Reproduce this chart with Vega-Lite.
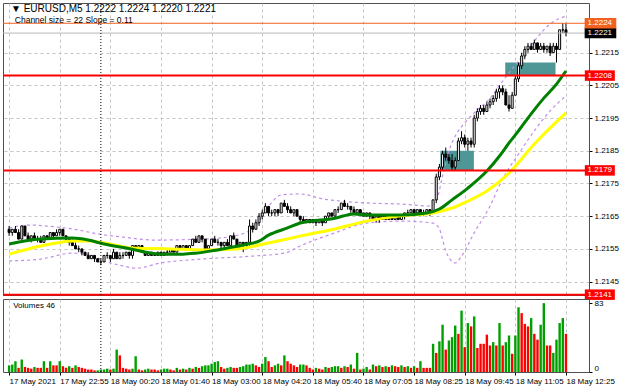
{
"$schema": "https://vega.github.io/schema/vega-lite/v6.json",
"background": "white",
"padding": {"left": 1, "top": 2, "right": 0, "bottom": 0},
"spacing": 4,
"bounds": "flush",
"config": {"font": "Liberation Sans", "view": {"stroke": "#505050", "strokeWidth": 1}},
"datasets": {
"bars": [
{"i":0,"o":1.2161,"h":1.2162,"l":1.2159,"c":1.2160,"v":8,"vc":"g"},
{"i":1,"o":1.2160,"h":1.2161,"l":1.2159,"c":1.2161,"v":9,"vc":"g"},
{"i":2,"o":1.2161,"h":1.2162,"l":1.2160,"c":1.2160,"v":13,"vc":"g"},
{"i":3,"o":1.2160,"h":1.2161,"l":1.2158,"c":1.2158,"v":5,"vc":"r"},
{"i":4,"o":1.2158,"h":1.2162,"l":1.2158,"c":1.2162,"v":15,"vc":"g"},
{"i":5,"o":1.2162,"h":1.2162,"l":1.2159,"c":1.2159,"v":6,"vc":"r"},
{"i":6,"o":1.2159,"h":1.2160,"l":1.2158,"c":1.2158,"v":5,"vc":"r"},
{"i":7,"o":1.2158,"h":1.2159,"l":1.2157,"c":1.2159,"v":4,"vc":"r"},
{"i":8,"o":1.2159,"h":1.2160,"l":1.2158,"c":1.2158,"v":6,"vc":"g"},
{"i":9,"o":1.2158,"h":1.2159,"l":1.2157,"c":1.2158,"v":5,"vc":"r"},
{"i":10,"o":1.2158,"h":1.2159,"l":1.2157,"c":1.2157,"v":5,"vc":"r"},
{"i":11,"o":1.2157,"h":1.2159,"l":1.2157,"c":1.2159,"v":13,"vc":"g"},
{"i":12,"o":1.2159,"h":1.2159,"l":1.2158,"c":1.2158,"v":5,"vc":"r"},
{"i":13,"o":1.2158,"h":1.2160,"l":1.2158,"c":1.2160,"v":13,"vc":"g"},
{"i":14,"o":1.2160,"h":1.2160,"l":1.2158,"c":1.2159,"v":8,"vc":"r"},
{"i":15,"o":1.2159,"h":1.2161,"l":1.2159,"c":1.2160,"v":8,"vc":"r"},
{"i":16,"o":1.2160,"h":1.2161,"l":1.2159,"c":1.2161,"v":13,"vc":"g"},
{"i":17,"o":1.2161,"h":1.2161,"l":1.2159,"c":1.2159,"v":7,"vc":"r"},
{"i":18,"o":1.2159,"h":1.2159,"l":1.2157,"c":1.2158,"v":5,"vc":"r"},
{"i":19,"o":1.2158,"h":1.2158,"l":1.2156,"c":1.2157,"v":7,"vc":"g"},
{"i":20,"o":1.2157,"h":1.2158,"l":1.2156,"c":1.2156,"v":5,"vc":"r"},
{"i":21,"o":1.2156,"h":1.2157,"l":1.2155,"c":1.2155,"v":8,"vc":"g"},
{"i":22,"o":1.2155,"h":1.2156,"l":1.2154,"c":1.2155,"v":6,"vc":"r"},
{"i":23,"o":1.2155,"h":1.2155,"l":1.2153,"c":1.2154,"v":5,"vc":"r"},
{"i":24,"o":1.2154,"h":1.2154,"l":1.2153,"c":1.2153,"v":4,"vc":"r"},
{"i":25,"o":1.2153,"h":1.2154,"l":1.2152,"c":1.2152,"v":3,"vc":"r"},
{"i":26,"o":1.2152,"h":1.2153,"l":1.2152,"c":1.2153,"v":3,"vc":"r"},
{"i":27,"o":1.2153,"h":1.2153,"l":1.2151,"c":1.2152,"v":2,"vc":"r"},
{"i":28,"o":1.2152,"h":1.2152,"l":1.2151,"c":1.2151,"v":2,"vc":"g"},
{"i":29,"o":1.2151,"h":1.2152,"l":1.2150,"c":1.2151,"v":3,"vc":"g"},
{"i":30,"o":1.2151,"h":1.2153,"l":1.2151,"c":1.2153,"v":3,"vc":"g"},
{"i":31,"o":1.2153,"h":1.2154,"l":1.2152,"c":1.2153,"v":4,"vc":"g"},
{"i":32,"o":1.2153,"h":1.2153,"l":1.2151,"c":1.2152,"v":3,"vc":"r"},
{"i":33,"o":1.2152,"h":1.2155,"l":1.2152,"c":1.2154,"v":4,"vc":"g"},
{"i":34,"o":1.2154,"h":1.2154,"l":1.2152,"c":1.2152,"v":27,"vc":"g"},
{"i":35,"o":1.2152,"h":1.2154,"l":1.2152,"c":1.2153,"v":20,"vc":"r"},
{"i":36,"o":1.2153,"h":1.2154,"l":1.2152,"c":1.2153,"v":5,"vc":"r"},
{"i":37,"o":1.2153,"h":1.2154,"l":1.2153,"c":1.2154,"v":4,"vc":"r"},
{"i":38,"o":1.2154,"h":1.2154,"l":1.2152,"c":1.2153,"v":3,"vc":"r"},
{"i":39,"o":1.2153,"h":1.2156,"l":1.2152,"c":1.2156,"v":4,"vc":"g"},
{"i":40,"o":1.2156,"h":1.2156,"l":1.2155,"c":1.2155,"v":19,"vc":"g"},
{"i":41,"o":1.2155,"h":1.2156,"l":1.2155,"c":1.2156,"v":3,"vc":"r"},
{"i":42,"o":1.2156,"h":1.2156,"l":1.2154,"c":1.2154,"v":2,"vc":"r"},
{"i":43,"o":1.2154,"h":1.2154,"l":1.2153,"c":1.2153,"v":3,"vc":"g"},
{"i":44,"o":1.2153,"h":1.2154,"l":1.2153,"c":1.2154,"v":4,"vc":"g"},
{"i":45,"o":1.2154,"h":1.2154,"l":1.2153,"c":1.2153,"v":3,"vc":"r"},
{"i":46,"o":1.2153,"h":1.2154,"l":1.2153,"c":1.2153,"v":3,"vc":"r"},
{"i":47,"o":1.2153,"h":1.2154,"l":1.2153,"c":1.2154,"v":2,"vc":"r"},
{"i":48,"o":1.2154,"h":1.2154,"l":1.2153,"c":1.2153,"v":3,"vc":"g"},
{"i":49,"o":1.2153,"h":1.2154,"l":1.2153,"c":1.2154,"v":4,"vc":"g"},
{"i":50,"o":1.2154,"h":1.2155,"l":1.2153,"c":1.2154,"v":4,"vc":"g"},
{"i":51,"o":1.2154,"h":1.2155,"l":1.2154,"c":1.2155,"v":3,"vc":"r"},
{"i":52,"o":1.2155,"h":1.2155,"l":1.2154,"c":1.2154,"v":2,"vc":"r"},
{"i":53,"o":1.2154,"h":1.2156,"l":1.2154,"c":1.2156,"v":5,"vc":"g"},
{"i":54,"o":1.2156,"h":1.2156,"l":1.2155,"c":1.2155,"v":3,"vc":"r"},
{"i":55,"o":1.2155,"h":1.2156,"l":1.2155,"c":1.2156,"v":4,"vc":"g"},
{"i":56,"o":1.2156,"h":1.2156,"l":1.2155,"c":1.2155,"v":3,"vc":"r"},
{"i":57,"o":1.2155,"h":1.2156,"l":1.2155,"c":1.2156,"v":5,"vc":"g"},
{"i":58,"o":1.2156,"h":1.2158,"l":1.2156,"c":1.2158,"v":4,"vc":"r"},
{"i":59,"o":1.2158,"h":1.2159,"l":1.2157,"c":1.2157,"v":6,"vc":"g"},
{"i":60,"o":1.2157,"h":1.2159,"l":1.2157,"c":1.2159,"v":5,"vc":"r"},
{"i":61,"o":1.2159,"h":1.2159,"l":1.2157,"c":1.2158,"v":7,"vc":"g"},
{"i":62,"o":1.2158,"h":1.2158,"l":1.2155,"c":1.2155,"v":8,"vc":"g"},
{"i":63,"o":1.2155,"h":1.2156,"l":1.2154,"c":1.2156,"v":8,"vc":"g"},
{"i":64,"o":1.2156,"h":1.2158,"l":1.2156,"c":1.2158,"v":10,"vc":"g"},
{"i":65,"o":1.2158,"h":1.2159,"l":1.2157,"c":1.2157,"v":12,"vc":"g"},
{"i":66,"o":1.2157,"h":1.2158,"l":1.2156,"c":1.2157,"v":13,"vc":"g"},
{"i":67,"o":1.2157,"h":1.2157,"l":1.2155,"c":1.2156,"v":6,"vc":"r"},
{"i":68,"o":1.2156,"h":1.2157,"l":1.2155,"c":1.2157,"v":4,"vc":"r"},
{"i":69,"o":1.2157,"h":1.2158,"l":1.2156,"c":1.2156,"v":5,"vc":"g"},
{"i":70,"o":1.2156,"h":1.2159,"l":1.2156,"c":1.2159,"v":6,"vc":"g"},
{"i":71,"o":1.2159,"h":1.2160,"l":1.2158,"c":1.2158,"v":5,"vc":"r"},
{"i":72,"o":1.2158,"h":1.2158,"l":1.2156,"c":1.2156,"v":5,"vc":"r"},
{"i":73,"o":1.2156,"h":1.2157,"l":1.2155,"c":1.2157,"v":6,"vc":"g"},
{"i":74,"o":1.2157,"h":1.2157,"l":1.2154,"c":1.2156,"v":7,"vc":"g"},
{"i":75,"o":1.2156,"h":1.2157,"l":1.2155,"c":1.2157,"v":9,"vc":"g"},
{"i":76,"o":1.2157,"h":1.2164,"l":1.2156,"c":1.2162,"v":9,"vc":"g"},
{"i":77,"o":1.2162,"h":1.2163,"l":1.2160,"c":1.2161,"v":10,"vc":"g"},
{"i":78,"o":1.2161,"h":1.2164,"l":1.2161,"c":1.2163,"v":8,"vc":"r"},
{"i":79,"o":1.2163,"h":1.2166,"l":1.2162,"c":1.2165,"v":6,"vc":"r"},
{"i":80,"o":1.2165,"h":1.2167,"l":1.2164,"c":1.2166,"v":10,"vc":"g"},
{"i":81,"o":1.2166,"h":1.2169,"l":1.2166,"c":1.2168,"v":18,"vc":"g"},
{"i":82,"o":1.2168,"h":1.2168,"l":1.2165,"c":1.2166,"v":13,"vc":"r"},
{"i":83,"o":1.2166,"h":1.2167,"l":1.2165,"c":1.2166,"v":6,"vc":"r"},
{"i":84,"o":1.2166,"h":1.2167,"l":1.2165,"c":1.2167,"v":8,"vc":"g"},
{"i":85,"o":1.2167,"h":1.2167,"l":1.2165,"c":1.2166,"v":10,"vc":"g"},
{"i":86,"o":1.2166,"h":1.2169,"l":1.2166,"c":1.2169,"v":8,"vc":"r"},
{"i":87,"o":1.2169,"h":1.2170,"l":1.2168,"c":1.2168,"v":20,"vc":"g"},
{"i":88,"o":1.2168,"h":1.2169,"l":1.2166,"c":1.2167,"v":13,"vc":"r"},
{"i":89,"o":1.2167,"h":1.2168,"l":1.2166,"c":1.2166,"v":10,"vc":"r"},
{"i":90,"o":1.2166,"h":1.2167,"l":1.2165,"c":1.2167,"v":8,"vc":"r"},
{"i":91,"o":1.2167,"h":1.2167,"l":1.2165,"c":1.2165,"v":6,"vc":"r"},
{"i":92,"o":1.2165,"h":1.2165,"l":1.2163,"c":1.2164,"v":9,"vc":"g"},
{"i":93,"o":1.2164,"h":1.2165,"l":1.2163,"c":1.2163,"v":9,"vc":"g"},
{"i":94,"o":1.2163,"h":1.2164,"l":1.2163,"c":1.2164,"v":8,"vc":"r"},
{"i":95,"o":1.2164,"h":1.2164,"l":1.2163,"c":1.2163,"v":5,"vc":"r"},
{"i":96,"o":1.2163,"h":1.2164,"l":1.2163,"c":1.2164,"v":3,"vc":"r"},
{"i":97,"o":1.2164,"h":1.2164,"l":1.2162,"c":1.2163,"v":5,"vc":"g"},
{"i":98,"o":1.2163,"h":1.2164,"l":1.2163,"c":1.2164,"v":4,"vc":"r"},
{"i":99,"o":1.2164,"h":1.2164,"l":1.2162,"c":1.2163,"v":3,"vc":"r"},
{"i":100,"o":1.2163,"h":1.2165,"l":1.2163,"c":1.2165,"v":6,"vc":"g"},
{"i":101,"o":1.2165,"h":1.2166,"l":1.2164,"c":1.2166,"v":5,"vc":"r"},
{"i":102,"o":1.2166,"h":1.2166,"l":1.2165,"c":1.2165,"v":6,"vc":"g"},
{"i":103,"o":1.2165,"h":1.2167,"l":1.2165,"c":1.2167,"v":7,"vc":"g"},
{"i":104,"o":1.2167,"h":1.2168,"l":1.2166,"c":1.2167,"v":7,"vc":"g"},
{"i":105,"o":1.2167,"h":1.2169,"l":1.2167,"c":1.2169,"v":5,"vc":"r"},
{"i":106,"o":1.2169,"h":1.2170,"l":1.2168,"c":1.2168,"v":7,"vc":"g"},
{"i":107,"o":1.2168,"h":1.2169,"l":1.2167,"c":1.2168,"v":6,"vc":"r"},
{"i":108,"o":1.2168,"h":1.2168,"l":1.2166,"c":1.2167,"v":9,"vc":"g"},
{"i":109,"o":1.2167,"h":1.2168,"l":1.2166,"c":1.2166,"v":4,"vc":"r"},
{"i":110,"o":1.2166,"h":1.2167,"l":1.2166,"c":1.2167,"v":23,"vc":"g"},
{"i":111,"o":1.2167,"h":1.2167,"l":1.2165,"c":1.2166,"v":3,"vc":"r"},
{"i":112,"o":1.2166,"h":1.2166,"l":1.2165,"c":1.2165,"v":4,"vc":"g"},
{"i":113,"o":1.2165,"h":1.2166,"l":1.2165,"c":1.2166,"v":6,"vc":"g"},
{"i":114,"o":1.2166,"h":1.2166,"l":1.2164,"c":1.2165,"v":3,"vc":"r"},
{"i":115,"o":1.2165,"h":1.2165,"l":1.2164,"c":1.2164,"v":9,"vc":"g"},
{"i":116,"o":1.2164,"h":1.2165,"l":1.2163,"c":1.2165,"v":7,"vc":"r"},
{"i":117,"o":1.2165,"h":1.2165,"l":1.2163,"c":1.2164,"v":8,"vc":"g"},
{"i":118,"o":1.2164,"h":1.2165,"l":1.2164,"c":1.2165,"v":6,"vc":"r"},
{"i":119,"o":1.2165,"h":1.2165,"l":1.2164,"c":1.2164,"v":7,"vc":"g"},
{"i":120,"o":1.2164,"h":1.2165,"l":1.2164,"c":1.2165,"v":6,"vc":"r"},
{"i":121,"o":1.2165,"h":1.2165,"l":1.2164,"c":1.2164,"v":8,"vc":"g"},
{"i":122,"o":1.2164,"h":1.2165,"l":1.2164,"c":1.2165,"v":7,"vc":"r"},
{"i":123,"o":1.2165,"h":1.2165,"l":1.2164,"c":1.2164,"v":6,"vc":"r"},
{"i":124,"o":1.2164,"h":1.2165,"l":1.2164,"c":1.2165,"v":8,"vc":"g"},
{"i":125,"o":1.2165,"h":1.2166,"l":1.2164,"c":1.2166,"v":6,"vc":"r"},
{"i":126,"o":1.2166,"h":1.2167,"l":1.2166,"c":1.2166,"v":7,"vc":"g"},
{"i":127,"o":1.2166,"h":1.2167,"l":1.2165,"c":1.2167,"v":5,"vc":"r"},
{"i":128,"o":1.2167,"h":1.2167,"l":1.2166,"c":1.2166,"v":7,"vc":"g"},
{"i":129,"o":1.2166,"h":1.2167,"l":1.2166,"c":1.2167,"v":5,"vc":"r"},
{"i":130,"o":1.2167,"h":1.2167,"l":1.2166,"c":1.2166,"v":13,"vc":"g"},
{"i":131,"o":1.2166,"h":1.2167,"l":1.2165,"c":1.2166,"v":5,"vc":"r"},
{"i":132,"o":1.2166,"h":1.2167,"l":1.2166,"c":1.2167,"v":5,"vc":"r"},
{"i":133,"o":1.2167,"h":1.2167,"l":1.2165,"c":1.2166,"v":5,"vc":"r"},
{"i":134,"o":1.2166,"h":1.2170,"l":1.2166,"c":1.2170,"v":34,"vc":"g"},
{"i":135,"o":1.2170,"h":1.2178,"l":1.2169,"c":1.2177,"v":23,"vc":"r"},
{"i":136,"o":1.2177,"h":1.2181,"l":1.2176,"c":1.2180,"v":37,"vc":"g"},
{"i":137,"o":1.2180,"h":1.2185,"l":1.2179,"c":1.2184,"v":57,"vc":"g"},
{"i":138,"o":1.2184,"h":1.2186,"l":1.2182,"c":1.2183,"v":27,"vc":"r"},
{"i":139,"o":1.2183,"h":1.2184,"l":1.2181,"c":1.2182,"v":38,"vc":"g"},
{"i":140,"o":1.2182,"h":1.2184,"l":1.2179,"c":1.2180,"v":42,"vc":"g"},
{"i":141,"o":1.2180,"h":1.2183,"l":1.2179,"c":1.2182,"v":56,"vc":"g"},
{"i":142,"o":1.2182,"h":1.2189,"l":1.2182,"c":1.2188,"v":46,"vc":"r"},
{"i":143,"o":1.2188,"h":1.2191,"l":1.2187,"c":1.2189,"v":74,"vc":"g"},
{"i":144,"o":1.2189,"h":1.2190,"l":1.2186,"c":1.2187,"v":30,"vc":"r"},
{"i":145,"o":1.2187,"h":1.2189,"l":1.2185,"c":1.2188,"v":59,"vc":"g"},
{"i":146,"o":1.2188,"h":1.2189,"l":1.2186,"c":1.2187,"v":55,"vc":"r"},
{"i":147,"o":1.2187,"h":1.2196,"l":1.2186,"c":1.2195,"v":67,"vc":"g"},
{"i":148,"o":1.2195,"h":1.2198,"l":1.2194,"c":1.2197,"v":29,"vc":"r"},
{"i":149,"o":1.2197,"h":1.2199,"l":1.2196,"c":1.2198,"v":34,"vc":"r"},
{"i":150,"o":1.2198,"h":1.2199,"l":1.2196,"c":1.2197,"v":34,"vc":"r"},
{"i":151,"o":1.2197,"h":1.2200,"l":1.2197,"c":1.2199,"v":45,"vc":"r"},
{"i":152,"o":1.2199,"h":1.2201,"l":1.2198,"c":1.2200,"v":32,"vc":"r"},
{"i":153,"o":1.2200,"h":1.2202,"l":1.2199,"c":1.2201,"v":36,"vc":"g"},
{"i":154,"o":1.2201,"h":1.2204,"l":1.2200,"c":1.2203,"v":32,"vc":"r"},
{"i":155,"o":1.2203,"h":1.2205,"l":1.2201,"c":1.2204,"v":59,"vc":"g"},
{"i":156,"o":1.2204,"h":1.2205,"l":1.2202,"c":1.2203,"v":32,"vc":"r"},
{"i":157,"o":1.2203,"h":1.2204,"l":1.2199,"c":1.2199,"v":36,"vc":"g"},
{"i":158,"o":1.2199,"h":1.2202,"l":1.2197,"c":1.2198,"v":44,"vc":"g"},
{"i":159,"o":1.2198,"h":1.2203,"l":1.2198,"c":1.2202,"v":22,"vc":"r"},
{"i":160,"o":1.2202,"h":1.2208,"l":1.2202,"c":1.2207,"v":44,"vc":"g"},
{"i":161,"o":1.2207,"h":1.2212,"l":1.2206,"c":1.2211,"v":78,"vc":"g"},
{"i":162,"o":1.2211,"h":1.2215,"l":1.2210,"c":1.2214,"v":71,"vc":"r"},
{"i":163,"o":1.2214,"h":1.2217,"l":1.2213,"c":1.2216,"v":58,"vc":"r"},
{"i":164,"o":1.2216,"h":1.2218,"l":1.2215,"c":1.2217,"v":55,"vc":"r"},
{"i":165,"o":1.2217,"h":1.2218,"l":1.2216,"c":1.2216,"v":65,"vc":"g"},
{"i":166,"o":1.2216,"h":1.2219,"l":1.2216,"c":1.2218,"v":46,"vc":"r"},
{"i":167,"o":1.2218,"h":1.2218,"l":1.2215,"c":1.2216,"v":39,"vc":"r"},
{"i":168,"o":1.2216,"h":1.2218,"l":1.2216,"c":1.2217,"v":57,"vc":"g"},
{"i":169,"o":1.2217,"h":1.2218,"l":1.2215,"c":1.2216,"v":83,"vc":"g"},
{"i":170,"o":1.2216,"h":1.2217,"l":1.2215,"c":1.2217,"v":32,"vc":"r"},
{"i":171,"o":1.2217,"h":1.2218,"l":1.2214,"c":1.2215,"v":32,"vc":"r"},
{"i":172,"o":1.2215,"h":1.2218,"l":1.2215,"c":1.2217,"v":23,"vc":"g"},
{"i":173,"o":1.2217,"h":1.2218,"l":1.2212,"c":1.2216,"v":39,"vc":"g"},
{"i":174,"o":1.2216,"h":1.2222,"l":1.2216,"c":1.2222,"v":59,"vc":"g"},
{"i":175,"o":1.2222,"h":1.2224,"l":1.2221,"c":1.2222,"v":65,"vc":"g"},
{"i":176,"o":1.2222,"h":1.2224,"l":1.2220,"c":1.2221,"v":46,"vc":"r"}
],
"lines": [
{"s":"f","i":0,"p":1.21565},{"s":"f","i":10,"p":1.2158},{"s":"f","i":20,"p":1.21583},{"s":"f","i":25,"p":1.21577},{"s":"f","i":30,"p":1.21565},{"s":"f","i":37,"p":1.21553},{"s":"f","i":48,"p":1.21534},{"s":"f","i":55,"p":1.21534},{"s":"f","i":59,"p":1.21537},{"s":"f","i":64,"p":1.21544},{"s":"f","i":69,"p":1.21553},{"s":"f","i":74,"p":1.21562},{"s":"f","i":79,"p":1.21574},{"s":"f","i":82,"p":1.21592},{"s":"f","i":88,"p":1.21614},{"s":"f","i":92,"p":1.21629},{"s":"f","i":103,"p":1.21644},{"s":"f","i":109,"p":1.21657},{"s":"f","i":113,"p":1.21654},{"s":"f","i":124,"p":1.21654},{"s":"f","i":132,"p":1.2166},{"s":"f","i":136,"p":1.21672},{"s":"f","i":140,"p":1.217},{"s":"f","i":145,"p":1.21736},{"s":"f","i":151,"p":1.21788},{"s":"f","i":155,"p":1.21834},{"s":"f","i":158,"p":1.21874},{"s":"f","i":161,"p":1.21911},{"s":"f","i":165,"p":1.21963},{"s":"f","i":169,"p":1.22011},{"s":"f","i":173,"p":1.22054},{"s":"f","i":176,"p":1.22094},
{"s":"s","i":0,"p":1.21534},{"s":"s","i":10,"p":1.21559},{"s":"s","i":15,"p":1.21568},{"s":"s","i":20,"p":1.21574},{"s":"s","i":25,"p":1.21574},{"s":"s","i":30,"p":1.21568},{"s":"s","i":39,"p":1.21553},{"s":"s","i":51,"p":1.2155},{"s":"s","i":61,"p":1.21547},{"s":"s","i":72,"p":1.2155},{"s":"s","i":82,"p":1.21568},{"s":"s","i":92,"p":1.21589},{"s":"s","i":103,"p":1.21611},{"s":"s","i":113,"p":1.21635},{"s":"s","i":124,"p":1.21651},{"s":"s","i":134,"p":1.2166},{"s":"s","i":140,"p":1.21675},{"s":"s","i":145,"p":1.21696},{"s":"s","i":151,"p":1.21727},{"s":"s","i":158,"p":1.21782},{"s":"s","i":166,"p":1.21871},{"s":"s","i":176,"p":1.21966},
{"s":"u","i":0,"p":1.21614},{"s":"u","i":6,"p":1.21623},{"s":"u","i":15,"p":1.21617},{"s":"u","i":20,"p":1.21611},{"s":"u","i":28,"p":1.21596},{"s":"u","i":36,"p":1.21586},{"s":"u","i":46,"p":1.21577},{"s":"u","i":61,"p":1.2158},{"s":"u","i":69,"p":1.21586},{"s":"u","i":77,"p":1.21611},{"s":"u","i":82,"p":1.21681},{"s":"u","i":86,"p":1.21715},{"s":"u","i":92,"p":1.21718},{"s":"u","i":99,"p":1.21703},{"s":"u","i":105,"p":1.21696},{"s":"u","i":114,"p":1.2169},{"s":"u","i":124,"p":1.21687},{"s":"u","i":133,"p":1.21681},{"s":"u","i":135,"p":1.21696},{"s":"u","i":137,"p":1.21773},{"s":"u","i":139,"p":1.21849},{"s":"u","i":141,"p":1.21895},{"s":"u","i":144,"p":1.21935},{"s":"u","i":147,"p":1.21966},{"s":"u","i":152,"p":1.22011},{"s":"u","i":156,"p":1.22063},{"s":"u","i":161,"p":1.22125},{"s":"u","i":166,"p":1.22186},{"s":"u","i":171,"p":1.22238},{"s":"u","i":176,"p":1.22262},
{"s":"d","i":0,"p":1.21513},{"s":"d","i":10,"p":1.21519},{"s":"d","i":20,"p":1.21537},{"s":"d","i":25,"p":1.21534},{"s":"d","i":30,"p":1.21513},{"s":"d","i":36,"p":1.21498},{"s":"d","i":40,"p":1.21491},{"s":"d","i":48,"p":1.21507},{"s":"d","i":61,"p":1.21519},{"s":"d","i":77,"p":1.21528},{"s":"d","i":87,"p":1.21537},{"s":"d","i":92,"p":1.21559},{"s":"d","i":103,"p":1.21599},{"s":"d","i":113,"p":1.21629},{"s":"d","i":124,"p":1.21635},{"s":"d","i":134,"p":1.21629},{"s":"d","i":136,"p":1.21611},{"s":"d","i":138,"p":1.21544},{"s":"d","i":141,"p":1.21507},{"s":"d","i":143,"p":1.21528},{"s":"d","i":147,"p":1.21599},{"s":"d","i":152,"p":1.21681},{"s":"d","i":156,"p":1.21764},{"s":"d","i":161,"p":1.2184},{"s":"d","i":166,"p":1.21911},{"s":"d","i":171,"p":1.21972},{"s":"d","i":176,"p":1.22018}
],
"zones": [{"x1":136.3,"x2":146.9,"p1":1.2179,"p2":1.2185},{"x1":156.8,"x2":172.7,"p1":1.2208,"p2":1.2212}],
"levels": [{"p":1.2208,"t":"1.2208"},{"p":1.2179,"t":"1.2179"},{"p":1.2141,"t":"1.2141"}],
"tags": [{"p":1.2224,"t":"1.2224"},{"p":1.2221,"t":"1.2221"},{"p":1.2208,"t":"1.2208"},{"p":1.2179,"t":"1.2179"},{"p":1.2141,"t":"1.2141"}]
},
"vconcat": [
{
"width": 586, "height": 292,
"layer": [
{"data": {"name": "zones"}, "mark": {"type": "rect", "color": "#4f9797"},
 "encoding": {
  "x": {"field": "x1", "type": "quantitative", "title": null, "scale": {"domain": [-0.35, 181.7], "nice": false, "zero": false},
   "axis": {"values": [0,8,16,24,32,40,48,56,64,72,80,88,96,104,112,120,128,136,144,152,160,168,176], "labels": false, "ticks": false, "domain": false, "grid": true, "gridColor": "#c4c4c4", "gridDash": [3,3]}},
  "x2": {"field": "x2"},
  "y": {"field": "p1", "type": "quantitative", "title": null, "scale": {"domain": [1.21409, 1.22302], "nice": false, "zero": false},
   "axis": {"orient": "right", "values": [1.2145,1.2155,1.2165,1.2175,1.2185,1.2195,1.2205,1.2215], "format": ".4f", "grid": true, "gridColor": "#c4c4c4", "gridDash": [3,3], "domain": false, "tickSize": 3, "tickColor": "#000", "labelFontSize": 8, "labelColor": "#000", "labelPadding": 2}},
  "y2": {"field": "p2"}
 }},
{"data": {"name": "lines"}, "transform": [{"filter": "datum.s == 'u' || datum.s == 'd'"}],
 "mark": {"type": "line", "color": "#c08ee6", "strokeWidth": 1.2, "strokeDash": [3,3], "interpolate": "monotone"},
 "encoding": {"x": {"field": "i", "type": "quantitative", "title": null}, "y": {"field": "p", "type": "quantitative", "title": null}, "detail": {"field": "s"}}},
{"data": {"name": "bars"}, "mark": {"type": "rule", "color": "#000", "strokeWidth": 1},
 "encoding": {"x": {"field": "i", "type": "quantitative", "title": null}, "y": {"field": "l", "type": "quantitative", "title": null}, "y2": {"field": "h"}}},
{"data": {"name": "bars"}, "mark": {"type": "bar", "width": 2, "stroke": "#000", "strokeWidth": 1},
 "encoding": {"x": {"field": "i", "type": "quantitative", "title": null}, "y": {"field": "o", "type": "quantitative", "title": null}, "y2": {"field": "c"},
  "fill": {"condition": {"test": "datum.c >= datum.o", "value": "#ffffff"}, "value": "#000000"}}},
{"data": {"name": "lines"}, "transform": [{"filter": "datum.s == 's'"}],
 "mark": {"type": "line", "color": "#ffff00", "strokeWidth": 3, "interpolate": "monotone"},
 "encoding": {"x": {"field": "i", "type": "quantitative", "title": null}, "y": {"field": "p", "type": "quantitative", "title": null}}},
{"data": {"name": "lines"}, "transform": [{"filter": "datum.s == 'f'"}],
 "mark": {"type": "line", "color": "#008000", "strokeWidth": 3, "interpolate": "monotone"},
 "encoding": {"x": {"field": "i", "type": "quantitative", "title": null}, "y": {"field": "p", "type": "quantitative", "title": null}}},
{"data": {"name": "levels"}, "mark": {"type": "rule", "color": "#ff0000", "strokeWidth": 2},
 "encoding": {"y": {"field": "p", "type": "quantitative", "title": null}}},
{"data": {"values": [{}]}, "mark": {"type": "rule", "color": "#b8b8b8", "strokeWidth": 1},
 "encoding": {"y": {"datum": 1.2221, "type": "quantitative", "title": null}}},
{"data": {"values": [{}]}, "mark": {"type": "rule", "color": "#f2621e", "strokeWidth": 1},
 "encoding": {"y": {"datum": 1.2224, "type": "quantitative", "title": null}}},
{"data": {"values": [{}]}, "mark": {"type": "rule", "color": "#000", "strokeWidth": 1, "strokeDash": [1,2]},
 "encoding": {"x": {"datum": 29, "type": "quantitative", "title": null}}},
{"data": {"name": "levels"}, "mark": {"type": "point", "shape": "M-1,-0.35L1,-0.35L1,0.35L-1,0.35Z", "size": 900, "filled": true, "color": "#ff0000", "opacity": 1},
 "encoding": {"x": {"datum": 186.7, "type": "quantitative", "title": null}, "y": {"field": "p", "type": "quantitative", "title": null}}},
{"data": {"values": [{}]}, "mark": {"type": "point", "shape": "M-1,-0.33L1,-0.33L1,0.33L-1,0.33Z", "size": 1000, "filled": true, "color": "#000000", "opacity": 1},
 "encoding": {"x": {"datum": 186.9, "type": "quantitative", "title": null}, "y": {"datum": 1.2221, "type": "quantitative", "title": null}}},
{"data": {"values": [{}]}, "mark": {"type": "point", "shape": "M-1,-0.33L1,-0.33L1,0.33L-1,0.33Z", "size": 1000, "filled": true, "color": "#f2621e", "opacity": 1},
 "encoding": {"x": {"datum": 186.9, "type": "quantitative", "title": null}, "y": {"datum": 1.2224, "type": "quantitative", "title": null}}},
{"data": {"name": "tags"}, "mark": {"type": "text", "color": "#ffffff", "fontSize": 8, "align": "center", "baseline": "middle"},
 "encoding": {"x": {"datum": 186.7, "type": "quantitative", "title": null}, "y": {"field": "p", "type": "quantitative", "title": null}, "text": {"field": "t"}}},
{"data": {"values": [{}]}, "mark": {"type": "text", "color": "#000000", "fontSize": 10, "align": "left", "baseline": "middle", "text": "▼ EURUSD,M5  1.2222 1.2224 1.2220 1.2221"},
 "encoding": {"x": {"datum": 0.6, "type": "quantitative", "title": null}, "y": {"datum": 1.22284, "type": "quantitative", "title": null}}},
{"data": {"values": [{}]}, "mark": {"type": "text", "color": "#000000", "fontSize": 8.5, "align": "left", "baseline": "middle", "text": "Channel size = 22 Slope = 0.11"},
 "encoding": {"x": {"datum": 1.8, "type": "quantitative", "title": null}, "y": {"datum": 1.2225, "type": "quantitative", "title": null}}}
]
},
{
"width": 586, "height": 73,
"layer": [
{"data": {"name": "bars"}, "mark": {"type": "bar", "width": 2.4},
 "encoding": {
  "x": {"field": "i", "type": "quantitative", "title": null, "scale": {"domain": [-0.35, 181.7], "nice": false, "zero": false},
   "axis": {"values": [0,8,16,24,32,40,48,56,64,72,80,88,96,104,112,120,128,136,144,152,160,168,176],
    "labelExpr": "datum.value % 16 == 0 ? ['17 May 2021','17 May 22:55','18 May 00:20','18 May 01:40','18 May 03:00','18 May 04:20','18 May 05:40','18 May 07:05','18 May 08:25','18 May 09:45','18 May 11:05','18 May 12:25'][datum.value / 16] : ''",
    "labelAlign": "left", "labelFontSize": 8, "labelColor": "#000", "labelOverlap": false, "labelBound": false, "labelFlush": false, "labelPadding": 2,
    "grid": true, "gridColor": "#c4c4c4", "gridDash": [3,3], "domain": false, "tickSize": 3, "tickColor": "#000",
    "tickOpacity": {"condition": {"test": "datum.value % 16 == 0", "value": 1}, "value": 0}}},
  "y": {"field": "v", "type": "quantitative", "title": null, "scale": {"domain": [0, 88], "nice": false, "zero": true},
   "axis": {"orient": "right", "values": [0, 83], "format": "d", "grid": false, "domain": false, "tickSize": 3, "tickColor": "#000", "labelFontSize": 8, "labelColor": "#000", "labelPadding": 2,
    "labelBaseline": {"condition": {"test": "datum.value == 0", "value": "bottom"}, "value": "middle"}}},
  "color": {"field": "vc", "type": "nominal", "scale": {"domain": ["g", "r"], "range": ["#00a000", "#ff0000"]}, "legend": null}
 }},
{"data": {"values": [{}]}, "mark": {"type": "rule", "color": "#000", "strokeWidth": 1, "strokeDash": [1,2]},
 "encoding": {"x": {"datum": 29, "type": "quantitative", "title": null}}},
{"data": {"values": [{}]}, "mark": {"type": "text", "color": "#000000", "fontSize": 8, "align": "left", "baseline": "middle", "text": "Volumes 46"},
 "encoding": {"x": {"datum": 1.3, "type": "quantitative", "title": null}, "y": {"datum": 79, "type": "quantitative", "title": null}}}
]
}
]
}
